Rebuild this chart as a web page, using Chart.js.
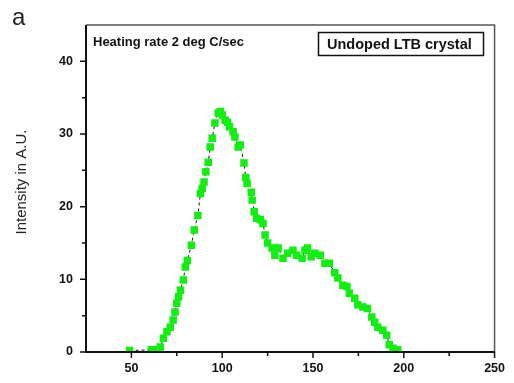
<!DOCTYPE html>
<html>
<head>
<meta charset="utf-8">
<script src="https://cdn.jsdelivr.net/npm/chart.js@4/dist/chart.umd.min.js"></script>
<style>
  body { margin: 0; background: #fff; }
  #wrap { width: 514px; height: 383px; }
</style>
</head>
<body>
<div id="wrap"><canvas id="chart"></canvas></div>
<script>
// temperature (deg C) and intensity readings
var temps = [49, 61, 65, 66, 67.6, 69.6, 71.4, 73, 74, 75, 76, 77, 78.6, 79.7, 80.8, 83, 84.6, 86.6, 88, 89, 90, 91, 92.3, 93.4, 94.5, 96, 97.8, 99, 100, 101.6, 103, 104, 106, 107, 108.8, 110, 112, 113, 113.7, 116, 116.5, 117.6, 119, 121, 122.5, 123.6, 125, 127.5, 129, 130.8, 133.5, 136, 139, 141, 144, 145.6, 147, 149, 151, 154, 156.6, 159, 162, 163.7, 166.5, 168.7, 170, 173, 174.7, 177.5, 180, 182.4, 184, 185.7, 188.5, 190.6, 192, 194, 196.7];
var intensity = [0.2, 0.3, 0.3, 0.7, 1.9, 2.8, 3.4, 4.4, 5.5, 6.7, 7.6, 8.5, 9.9, 11.7, 12.6, 14.7, 16.8, 18.8, 21.8, 22.5, 23.4, 24.8, 26.1, 28.2, 29.4, 31.5, 32.9, 33.1, 32.6, 31.9, 31.6, 31, 30.3, 29.6, 28.2, 28.5, 26, 24, 23.2, 22, 20.9, 19.3, 18.4, 18.2, 17.7, 16.1, 15, 14.3, 13.3, 14.3, 12.9, 13.6, 14, 13.3, 12.9, 14, 14.3, 13.1, 13.6, 13.3, 12.2, 12.2, 10.9, 10.2, 9.2, 9, 8.1, 7.4, 6.5, 6.2, 6, 4.8, 4.1, 3.4, 3, 2.3, 1, 0.5, 0.3];
var xTicks = [50, 75, 100, 125, 150, 175, 200, 225, 250];
var yTicks = [0, 5, 10, 15, 20, 25, 30, 35, 40];

var points = temps.map(function (t, i) { return { x: t, y: intensity[i] }; });

var fontName = "'Liberation Sans', Arial, sans-serif";

var framePlugin = {
  id: 'frame',
  afterDraw: function (chart) {
    var ctx = chart.ctx;
    var a = chart.chartArea;
    var xs = chart.scales.x, ys = chart.scales.y;
    ctx.save();
    // top and right border
    ctx.strokeStyle = '#555';
    ctx.lineWidth = 1.5;
    ctx.beginPath();
    ctx.moveTo(a.left, a.top);
    ctx.lineTo(a.right, a.top);
    ctx.lineTo(a.right, a.bottom);
    ctx.stroke();
    // axes
    ctx.strokeStyle = '#111';
    ctx.lineWidth = 2;
    ctx.beginPath();
    ctx.moveTo(a.left, a.top);
    ctx.lineTo(a.left, a.bottom);
    ctx.lineTo(a.right, a.bottom);
    ctx.stroke();
    // tick marks
    ctx.lineWidth = 1.5;
    ctx.beginPath();
    xTicks.forEach(function (v) {
      var px = xs.getPixelForValue(v);
      var len = v % 50 === 0 ? 6 : 4;
      ctx.moveTo(px, a.bottom);
      ctx.lineTo(px, a.bottom + len);
    });
    yTicks.forEach(function (v) {
      var py = ys.getPixelForValue(v);
      var len = v % 10 === 0 ? 6 : 4;
      ctx.moveTo(a.left, py);
      ctx.lineTo(a.left - len, py);
    });
    ctx.stroke();
    // panel letter
    ctx.fillStyle = '#222';
    ctx.font = '24px ' + fontName;
    ctx.textBaseline = 'alphabetic';
    ctx.fillText('a', 12, 25);
    // y axis title
    ctx.save();
    ctx.translate(26, 182);
    ctx.rotate(-Math.PI / 2);
    ctx.textAlign = 'center';
    ctx.font = '15px ' + fontName;
    ctx.fillText('Intensity in A.U.', 0, 0);
    ctx.restore();
    // annotations
    ctx.fillStyle = '#111';
    ctx.font = 'bold 13px ' + fontName;
    ctx.fillText('Heating rate 2 deg C/sec', 93, 46);
    ctx.font = 'bold 14.5px ' + fontName;
    ctx.fillText('Undoped LTB crystal', 327, 49);
    ctx.strokeStyle = '#111';
    ctx.lineWidth = 1.5;
    ctx.strokeRect(318.5, 32.5, 165, 23);
    ctx.restore();
  }
};

new Chart(document.getElementById('chart'), {
  type: 'scatter',
  plugins: [framePlugin],
  data: {
    datasets: [{
      data: points,
      showLine: true,
      borderColor: '#111',
      borderWidth: 1,
      borderDash: [3, 3],
      pointStyle: 'rect',
      pointRadius: 5.3,
      pointBackgroundColor: '#11ee11',
      pointBorderColor: '#11ee11',
      pointBorderWidth: 0
    }]
  },
  options: {
    responsive: true,
    maintainAspectRatio: false,
    animation: false,
    layout: { padding: { top: 25, right: 19, left: 0, bottom: 0 } },
    plugins: { legend: { display: false }, tooltip: { enabled: false } },
    scales: {
      x: {
        type: 'linear',
        min: 25,
        max: 250,
        afterFit: function (s) { s.height = 31; },
        afterBuildTicks: function (s) { s.ticks = xTicks.map(function (v) { return { value: v }; }); },
        border: { display: false },
        grid: { display: false, drawTicks: false },
        ticks: {
          padding: 9,
          autoSkip: false,
          maxRotation: 0,
          color: '#111',
          font: { family: fontName, size: 12.5, weight: 'bold' },
          callback: function (v) { return v % 50 === 0 ? v : ''; }
        }
      },
      y: {
        min: 0,
        max: 45,
        afterFit: function (s) { s.width = 86; },
        afterBuildTicks: function (s) { s.ticks = yTicks.map(function (v) { return { value: v }; }); },
        border: { display: false },
        grid: { display: false, drawTicks: false },
        ticks: {
          padding: 13,
          autoSkip: false,
          color: '#111',
          font: { family: fontName, size: 12.5, weight: 'bold' },
          callback: function (v) { return v % 10 === 0 ? v : ''; }
        }
      }
    }
  }
});
</script>
</body>
</html>
